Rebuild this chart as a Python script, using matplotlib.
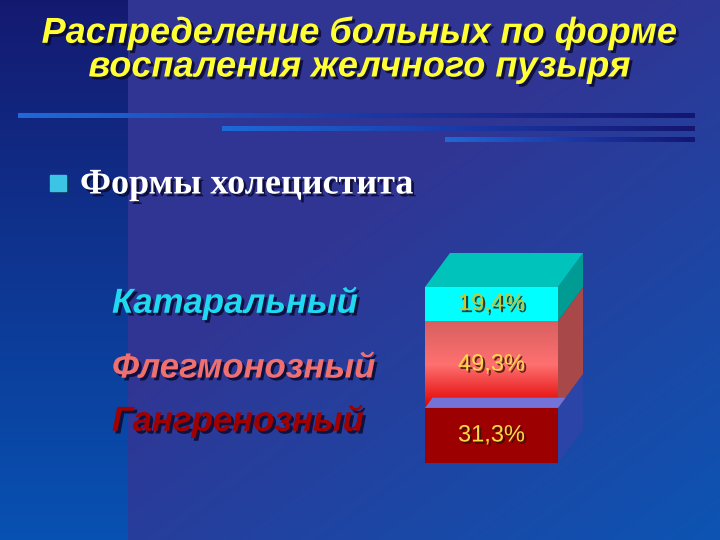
import numpy as np
import matplotlib
matplotlib.use("Agg")
import matplotlib.pyplot as plt
import matplotlib.patheffects as pe
from matplotlib.patches import Polygon, Rectangle
from matplotlib.colors import LinearSegmentedColormap

# данные
categories = ["Гангренозный", "Флегмонозный", "Катаральный"]
values = [31.3, 49.3, 19.4]
value_labels = ["31,3%", "49,3%", "19,4%"]
front_colors = ["#9c0000", "#f05050", "#00ffff"]
top_colors = ["#7474d8", "#c86060", "#00c4bc"]
side_colors = ["#2a44a8", "#a84848", "#009c94"]
label_colors = ["#a00000", "#f07070", "#20d8f0"]
value_colors = ["#ffd84a", "#ffd84a", "#c8c830"]

W, H = 720, 540
fig = plt.figure(figsize=(7.2, 5.4), dpi=100)

# фон
bg = fig.add_axes([0, 0, 1, 1])
bg.set_xlim(0, W)
bg.set_ylim(H, 0)
bg.axis("off")

xx, yy = np.meshgrid(np.linspace(0, 1, 360), np.linspace(0, 1, 270))
c1 = np.array([0.19, 0.21, 0.58])
c2 = np.array([0.05, 0.33, 0.70])
t = np.clip((0.5 * xx + 0.5 * yy - 0.45) / 0.55, 0, 1)[..., None]
img = c1 * (1 - t) + c2 * t
strip = 128 * 360 // W
ty = yy[:, :strip, None]
img[:, :strip] = np.array([0.08, 0.10, 0.44]) * (1 - ty) + np.array([0.03, 0.32, 0.70]) * ty
bg.imshow(img, extent=(0, W, H, 0), aspect="auto", zorder=0)

# декоративные линии
line_cmap = LinearSegmentedColormap.from_list("ln", ["#1e6ad8", "#1a3aa8", "#141670"])
for x0, y0 in [(18, 116), (222, 129), (445, 140)]:
    grad = np.linspace(0, 1, 200)[None, :]
    bg.imshow(grad, cmap=line_cmap, extent=(x0, 695, y0 + 2.5, y0 - 2.5),
              aspect="auto", zorder=1)

shadow = [pe.SimplePatchShadow(offset=(2, -2), shadow_rgbFace="#0a0a30", alpha=0.85),
          pe.Normal()]
small_shadow = [pe.SimplePatchShadow(offset=(1.5, -1.5), shadow_rgbFace="#301000", alpha=0.8),
                pe.Normal()]

# заголовок
for txt, y in [("Распределение больных по форме", 33), ("воспаления желчного пузыря", 67)]:
    fig.text(0.5, 1 - y / H, txt, ha="center", va="center",
             fontsize=26, fontweight="bold", fontstyle="italic", family="Liberation Sans",
             color="#ffff33", path_effects=shadow)

# пункт списка
bg.add_patch(Rectangle((50, 175), 16, 16, color="#3cc4e4", zorder=2,
                       path_effects=[pe.SimplePatchShadow(offset=(2, -2), alpha=0.6), pe.Normal()]))
fig.text(80 / W, 1 - 185 / H, "Формы холецистита", ha="left", va="center",
         fontsize=26, fontweight="bold", family="Liberation Serif",
         color="white", path_effects=shadow)

# подписи категорий
for name, y, col in zip(categories, [421, 368, 303], label_colors):
    fig.text(112 / W, 1 - y / H, name, ha="left", va="center", fontsize=25,
             fontweight="bold", fontstyle="italic", family="Liberation Sans",
             color=col, path_effects=shadow)

# объёмный столбец
ax = fig.add_axes([425 / W, (H - 463) / H, (583 - 425) / W, (463 - 253) / H])
dx, dy = 25 / 133, 34 / 1.76
ax.set_xlim(0, 1 + dx)
ax.set_ylim(0, 100 + dy)
ax.axis("off")

bottoms = np.concatenate([[0], np.cumsum(values)[:-1]])
red_cmap = LinearSegmentedColormap.from_list("rd", ["#e00000", "#ff7070", "#d86060"])
for i, (v, b) in enumerate(zip(values, bottoms)):
    top = b + v
    ax.add_patch(Polygon([(1, b), (1 + dx, b + dy), (1 + dx, top + dy), (1, top)],
                         closed=True, facecolor=side_colors[i], edgecolor="none",
                         zorder=2 + i))
    bar = ax.bar(0, v, bottom=b, width=1, align="edge", color=front_colors[i],
                 edgecolor="none", zorder=2 + i)[0]
    if i == 1:
        g = ax.imshow(np.linspace(0, 1, 100)[:, None], cmap=red_cmap, origin="lower",
                      extent=(0, 1, b, top), aspect="auto", zorder=2 + i)
        g.set_clip_path(bar)
    ax.text(0.5, b + v / 2, value_labels[i], ha="center", va="center", fontsize=17,
            family="Liberation Sans", color=value_colors[i], zorder=10,
            path_effects=small_shadow)

# верхняя грань нижнего сегмента (видна полоской)
f = 0.3
b0 = values[0]
ax.add_patch(Polygon([(0, b0), (f * dx, b0 + f * dy), (1 + f * dx, b0 + f * dy), (1, b0)],
                     closed=True, facecolor=top_colors[0], edgecolor="none", zorder=6))
# верхняя грань столбца
top_all = sum(values)
ax.add_patch(Polygon([(0, top_all), (dx, top_all + dy), (1 + dx, top_all + dy), (1, top_all)],
                     closed=True, facecolor=top_colors[2], edgecolor="none", zorder=6))

fig.savefig("out.png", dpi=100)
